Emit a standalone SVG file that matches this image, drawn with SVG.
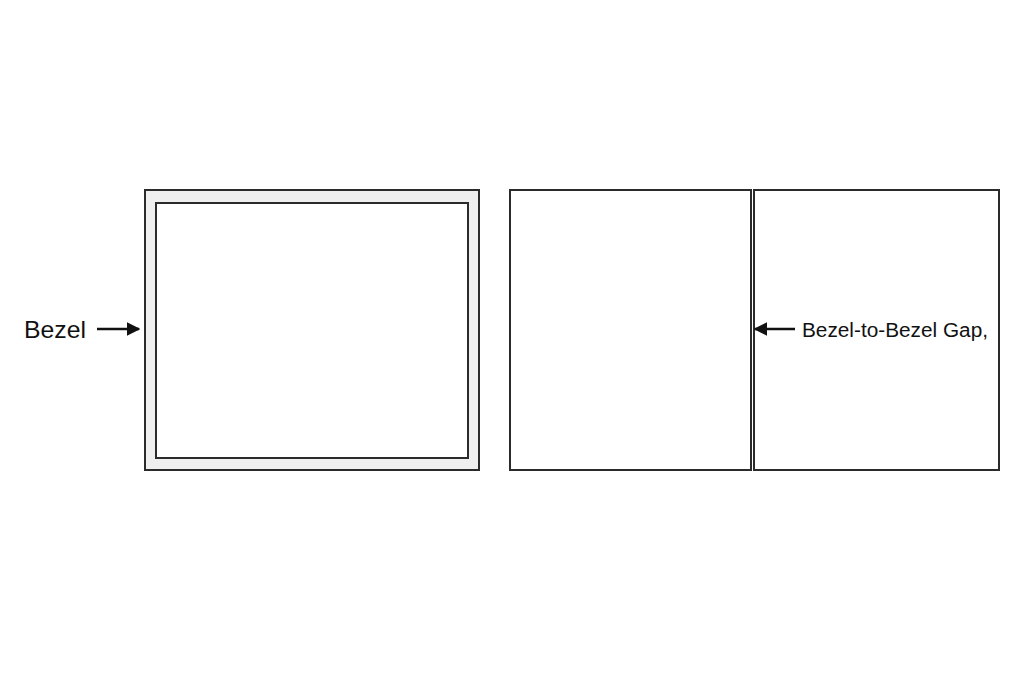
<svg xmlns="http://www.w3.org/2000/svg" width="1024" height="687" viewBox="0 0 1024 687">
<style>
.frame{fill:none;stroke:#2b2b2b;stroke-width:2}
.lbl{font-family:"Liberation Sans",Arial,sans-serif;fill:#111}
.conn{stroke:#111;stroke-width:2.5;fill:none}
</style>
<defs>
<marker id="ah" viewBox="0 0 10 10" refX="9" refY="5" markerWidth="5.5" markerHeight="5.5" orient="auto" markerUnits="strokeWidth">
<path d="M0,0 L10,5 L0,10 z" fill="#111"/>
</marker>
</defs>
<rect width="1024" height="687" fill="#ffffff"/>
<g id="bezel-monitor">
<rect x="145" y="190" width="334" height="280" fill="#efefef" stroke="#2b2b2b" stroke-width="2"/>
<rect x="156" y="203" width="312" height="255" fill="#ffffff" stroke="#2b2b2b" stroke-width="2"/>
</g>
<g id="panel-left">
<rect class="frame" x="510" y="190" width="241" height="280" fill="#fff"/>
</g>
<g id="panel-right">
<rect class="frame" x="754" y="190" width="245" height="280" fill="#fff"/>
</g>
<g id="label-bezel">
<text class="lbl" x="24" y="338" font-size="24" textLength="62" lengthAdjust="spacingAndGlyphs">Bezel</text>
</g>
<g id="label-gap">
<text class="lbl" x="802" y="337" font-size="19.5" textLength="186" lengthAdjust="spacingAndGlyphs">Bezel-to-Bezel Gap,</text>
</g>
<g id="connectors">
<line class="conn" x1="97" y1="329" x2="139" y2="329" marker-end="url(#ah)"/>
<line class="conn" x1="795" y1="329" x2="755" y2="329" marker-end="url(#ah)"/>
</g>
</svg>
